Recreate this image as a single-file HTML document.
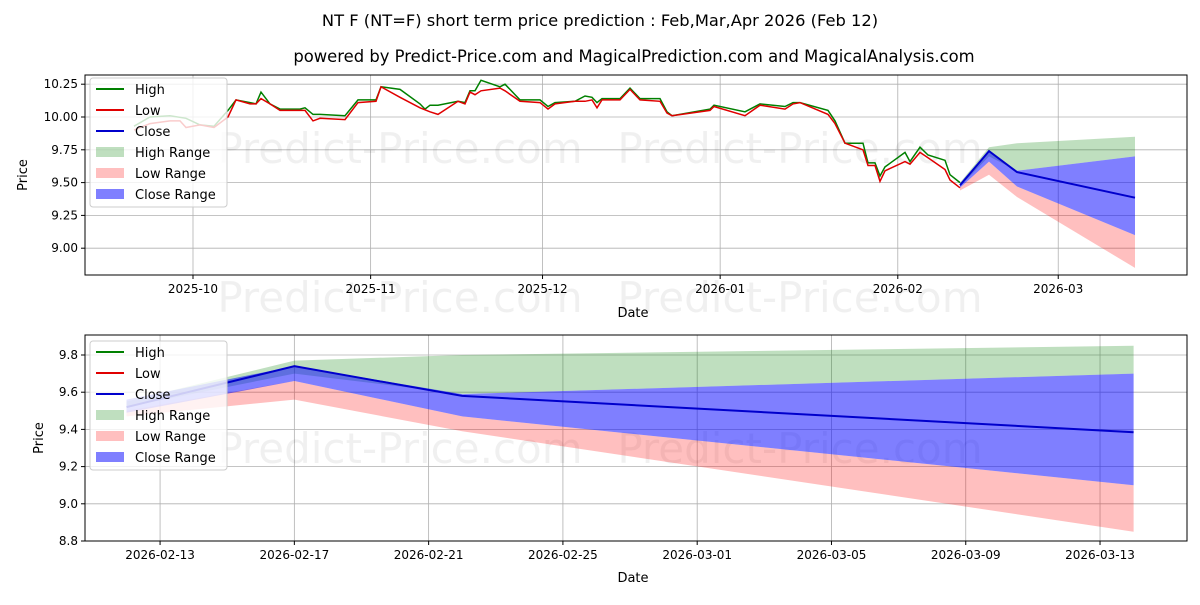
<!DOCTYPE html>
<html><head><meta charset="utf-8"><style>
body{margin:0;background:#fff;font-family:"Liberation Sans","DejaVu Sans",sans-serif}
</style></head><body>
<svg id="s" width="1200" height="600" xmlns="http://www.w3.org/2000/svg" font-family="DejaVu Sans, Liberation Sans, sans-serif">
<rect width="1200" height="600" fill="#fff"/>
<text x="600" y="26" font-size="16.3" text-anchor="middle">NT F (NT=F) short term price prediction : Feb,Mar,Apr 2026 (Feb 12)</text>
<text x="634" y="62" font-size="16.4" text-anchor="middle">powered by Predict-Price.com and MagicalPrediction.com and MagicalAnalysis.com</text>
<g id="g"></g>
</svg>
<script>
const NS="http://www.w3.org/2000/svg",g=document.getElementById('g');
function el(t,a,txt){const e=document.createElementNS(NS,t);for(const k in a)e.setAttribute(k,a[k]);if(txt!==undefined)e.textContent=txt;g.appendChild(e);return e;}
function pts(a,fx,fy){return a.map(p=>fx(p[0]).toFixed(1)+','+fy(p[1]).toFixed(1)).join(' ');}
function band(top,bot,fx,fy,col){el('polygon',{points:pts(top,fx,fy)+' '+pts(bot.slice().reverse(),fx,fy),fill:col,stroke:'none'});}
function axes(L,T,R,B,xt,yt,fx,fy,wm){
  el('rect',{x:L,y:T,width:R-L,height:B-T,fill:'#fff'});
  for(const [v,l] of xt){const x=fx(v);el('line',{x1:x,y1:T,x2:x,y2:B,stroke:'#b0b0b0','stroke-width':0.8});el('line',{x1:x,y1:B,x2:x,y2:B+4,stroke:'#000'});el('text',{x:x,y:B+18,'font-size':12,'text-anchor':'middle'},l);}
  for(const [v,l] of yt){const y=fy(v);el('line',{x1:L,y1:y,x2:R,y2:y,stroke:'#b0b0b0','stroke-width':0.8});el('line',{x1:L-4,y1:y,x2:L,y2:y,stroke:'#000'});el('text',{x:L-7,y:y+4,'font-size':12,'text-anchor':'end'},l);}
  for(const [x,y] of wm)el('text',{x:x,y:y,'font-size':42,fill:'#000','fill-opacity':0.06,'text-anchor':'middle'},'Predict-Price.com');
}
function legend(x,y){
  el('rect',{x:x,y:y,width:137,height:129,fill:'#fff','fill-opacity':0.8,stroke:'#ccc',rx:3});
  const it=[['l','#008000','High'],['l','#e00000','Low'],['l','#0000cc','Close'],['p','rgba(0,128,0,0.25)','High Range'],['p','rgba(255,0,0,0.25)','Low Range'],['p','rgba(0,0,255,0.5)','Close Range']];
  it.forEach((d,i)=>{const cy=y+11+i*21;
    if(d[0]=='l')el('line',{x1:x+6,y1:cy,x2:x+34,y2:cy,stroke:d[1],'stroke-width':2});
    else el('rect',{x:x+6,y:cy-5,width:28,height:10,fill:d[1]});
    el('text',{x:x+45,y:cy+5,'font-size':13},d[2]);});
}
// TOP
{const L=85,T=75,R=1187,B=275;
 const fy=v=>117-(v-10)*131.2, fx=x=>x;
 const d0=193,pd=5.73;
 axes(L,T,R,B,[[d0,'2025-10'],[d0+31*pd,'2025-11'],[d0+61*pd,'2025-12'],[d0+92*pd,'2026-01'],[d0+123*pd,'2026-02'],[d0+151*pd,'2026-03']],
  [[10.25,'10.25'],[10,'10.00'],[9.75,'9.75'],[9.5,'9.50'],[9.25,'9.25'],[9,'9.00']],fx,fy,[[400,163],[800,163],[400,312],[800,312]]);
 const E=1135;
 band([[960,9.50],[989,9.77],[1017,9.80],[E,9.85]],[[960,9.47],[989,9.70],[1017,9.59],[E,9.70]],fx,fy,'rgba(0,128,0,0.25)');
 band([[960,9.46],[989,9.66],[1017,9.47],[E,9.10]],[[960,9.44],[989,9.56],[1017,9.39],[E,8.85]],fx,fy,'rgba(255,0,0,0.25)');
 band([[960,9.49],[989,9.74],[1017,9.59],[E,9.70]],[[960,9.46],[989,9.66],[1017,9.47],[E,9.10]],fx,fy,'rgba(0,0,255,0.5)');
 const hi=[[134,9.93],[150,10.0],[170,10.01],[186,9.99],[200,9.94],[214,9.93],[228,10.05],[236,10.13],[250,10.11],[256,10.10],[261,10.19],[270,10.10],[280,10.06],[300,10.06],[305,10.07],[313,10.02],[320,10.02],[345,10.01],[358,10.13],[376,10.13],[381,10.23],[400,10.21],[420,10.10],[425,10.06],[430,10.09],[438,10.09],[458,10.12],[465,10.11],[470,10.20],[475,10.20],[481,10.28],[500,10.23],[505,10.25],[520,10.13],[540,10.13],[548,10.08],[555,10.11],[575,10.12],[585,10.16],[592,10.15],[597,10.11],[602,10.14],[620,10.14],[630,10.22],[640,10.14],[660,10.14],[667,10.04],[672,10.01],[710,10.06],[714,10.09],[745,10.04],[760,10.10],[785,10.08],[793,10.11],[800,10.11],[828,10.05],[835,9.97],[845,9.80],[863,9.80],[868,9.65],[875,9.65],[880,9.55],[885,9.62],[905,9.73],[910,9.66],[920,9.77],[928,9.71],[945,9.67],[950,9.56],[960,9.50]];
 const lo=[[134,9.90],[150,9.95],[170,9.97],[180,9.97],[186,9.92],[200,9.94],[214,9.92],[228,10.00],[236,10.13],[250,10.10],[256,10.10],[261,10.14],[270,10.10],[280,10.05],[300,10.05],[305,10.05],[313,9.97],[320,9.99],[345,9.98],[358,10.11],[376,10.12],[381,10.23],[400,10.15],[420,10.07],[430,10.04],[438,10.02],[458,10.12],[465,10.10],[470,10.19],[475,10.17],[481,10.20],[500,10.22],[505,10.20],[520,10.12],[540,10.11],[548,10.06],[555,10.10],[575,10.12],[585,10.12],[592,10.13],[597,10.07],[602,10.13],[620,10.13],[630,10.21],[640,10.13],[660,10.12],[667,10.03],[672,10.01],[710,10.05],[714,10.08],[745,10.01],[760,10.09],[785,10.06],[793,10.10],[800,10.11],[828,10.02],[835,9.95],[845,9.80],[863,9.75],[868,9.63],[875,9.63],[880,9.51],[885,9.59],[905,9.66],[910,9.64],[920,9.73],[928,9.69],[945,9.60],[950,9.52],[960,9.46]];
 el('polyline',{points:pts(hi,fx,fy),fill:'none',stroke:'#008000','stroke-width':1.5});
 el('polyline',{points:pts(lo,fx,fy),fill:'none',stroke:'#e00000','stroke-width':1.5});
 el('polyline',{points:pts([[960,9.48],[989,9.74],[1017,9.58],[E,9.385]],fx,fy),fill:'none',stroke:'#0000cc','stroke-width':2});
 el('rect',{x:L,y:T,width:R-L,height:B-T,fill:'none',stroke:'#000','stroke-width':1});
 legend(90,78);
 el('text',{x:633,y:317,'font-size':13,'text-anchor':'middle'},'Date');
 el('text',{x:27,y:175,'font-size':13,'text-anchor':'middle',transform:'rotate(-90 27 175)'},'Price');
}
// BOTTOM
{const L=85,T=335,R=1187,B=541;
 const fy=v=>355+(9.8-v)*186, x0=126.5, pd=33.57, fx=d=>x0+d*pd;
 axes(L,T,R,B,[[1,'2026-02-13'],[5,'2026-02-17'],[9,'2026-02-21'],[13,'2026-02-25'],[17,'2026-03-01'],[21,'2026-03-05'],[25,'2026-03-09'],[29,'2026-03-13']],
  [[9.8,'9.8'],[9.6,'9.6'],[9.4,'9.4'],[9.2,'9.2'],[9.0,'9.0'],[8.8,'8.8']],fx,fy,[[400,463],[800,463]]);
 band([[0,9.55],[5,9.77],[10,9.80],[30,9.85]],[[0,9.52],[5,9.70],[10,9.59],[30,9.70]],fx,fy,'rgba(0,128,0,0.25)');
 band([[0,9.50],[5,9.66],[10,9.47],[30,9.10]],[[0,9.47],[5,9.56],[10,9.39],[30,8.85]],fx,fy,'rgba(255,0,0,0.25)');
 band([[0,9.56],[5,9.74],[10,9.59],[30,9.70]],[[0,9.49],[5,9.66],[10,9.47],[30,9.10]],fx,fy,'rgba(0,0,255,0.5)');
 el('polyline',{points:pts([[0,9.52],[5,9.74],[10,9.58],[30,9.385]],fx,fy),fill:'none',stroke:'#0000cc','stroke-width':2});
 el('rect',{x:L,y:T,width:R-L,height:B-T,fill:'none',stroke:'#000','stroke-width':1});
 legend(90,341);
 el('text',{x:633,y:582,'font-size':13,'text-anchor':'middle'},'Date');
 el('text',{x:43,y:438,'font-size':13,'text-anchor':'middle',transform:'rotate(-90 43 438)'},'Price');
}
</script>
</body></html>
